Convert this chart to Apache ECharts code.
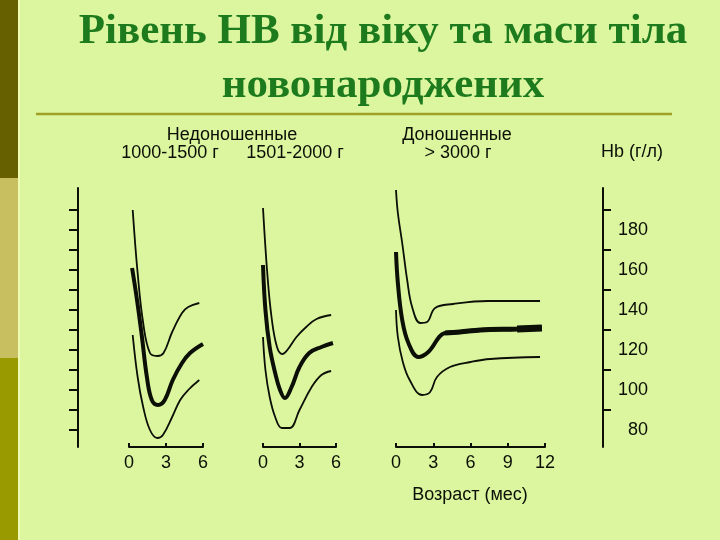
<!DOCTYPE html>
<html><head><meta charset="utf-8">
<script src="https://cdn.jsdelivr.net/npm/echarts@6/dist/echarts.min.js"></script>
<style>html,body{margin:0;padding:0;background:#dcf6a0;}#c{width:720px;height:540px;}</style>
</head><body><div id="c"></div>
<script>
// ---- data (age in months, Hb in g/l) ----
const titleText = 'Рівень НВ від віку та маси тіла\nновонароджених';
const groupLabels = ['Недоношенные', 'Доношенные'];
const weightLabels = ['1000-1500 г', '1501-2000 г', '> 3000 г'];
const yAxisName = 'Hb (г/л)';
const xAxisName = 'Возраст (мес)';
const hbLabelValues = [80, 100, 120, 140, 160, 180];
const hbRightTicks = [90, 110, 130, 150, 170, 190];
const hbLeftTicks = [80, 90, 100, 110, 120, 130, 140, 150, 160, 170, 180, 190];

const p1Upper = [[0.3,190],[0.7,158.5],[1.15,133.5],[1.7,118.5],[2.3,117],[2.8,118.5],[3.5,129],[4.3,138.5],[4.8,141.5],[5.7,143.5]];
const p1Mean  = [[0.25,161],[0.65,145],[1.05,126.5],[1.45,106.5],[1.85,95],[2.35,92.5],[2.9,95],[3.55,105],[4.3,113.5],[4.95,118.5],[6,123]];
const p1Lower = [[0.3,127.5],[0.7,106.5],[1.15,91.5],[1.7,80],[2.3,76],[2.75,77.5],[3.5,86.5],[4.15,95],[4.8,100],[5.7,105]];

const p2Upper = [[0,191],[0.35,158.5],[0.7,136.5],[1.15,121.5],[1.6,118],[2.0,120],[2.75,126.5],[3.55,131.5],[4.4,135.5],[5.6,137.5]];
const p2Mean  = [[0,162.5],[0.2,140],[0.55,121.5],[1.0,108.5],[1.4,100],[1.8,96],[2.35,101.5],[3.0,111.5],[3.8,118.5],[4.8,121.5],[5.75,123.5]];
const p2Lower = [[0,126.5],[0.2,110],[0.55,96.5],[1.0,86.5],[1.55,81],[2.2,81],[3.0,90],[4.0,101.5],[4.8,107.5],[5.6,109.5]];

const p3Upper = [[0,200],[0.15,188.5],[0.5,173.5],[0.9,155],[1.3,141.5],[1.95,133.5],[2.5,134],[3.15,141],[4.6,143],[7.4,144.5],[11.6,144.5]];
const p3Mean  = [[0,169],[0.15,153.5],[0.5,135],[1.0,123.5],[1.8,116.5],[2.6,119],[3.95,128.5],[5.15,129],[6.8,130],[9.75,130.5],[11.75,131]];
const p3Lower = [[0,140],[0.15,126.5],[0.55,114],[1.1,105],[2.1,97.5],[2.75,99],[3.3,106.5],[4.35,111.5],[6.0,114],[7.6,115.5],[11.6,116.5]];

const xTicks6 = [0, 3, 6];
const xTicks12 = [0, 3, 6, 9, 12];

// ---- chart ----
const chart = echarts.init(document.getElementById('c'), null, {renderer: 'canvas'});
const INK = '#0b0f05';
const SANS = 'Liberation Sans';
const FONT = '18px "Liberation Sans"';
const yMin = 71.5, yMax = 201;

function xAxis(gi, max, ticks) {
  return {
    type: 'value', gridIndex: gi, min: 0, max: max, interval: 3,
    axisLine: {show: true, onZero: false, lineStyle: {color: INK, width: 2}},
    axisTick: {show: true, inside: true, length: 4, lineStyle: {color: INK, width: 2}, customValues: ticks},
    axisLabel: {color: INK, fontFamily: SANS, fontSize: 18, margin: 7, customValues: ticks},
    splitLine: {show: false}
  };
}
function lineSeries(gi, data, w) {
  return {
    type: 'line', xAxisIndex: gi, yAxisIndex: gi, data: data, showSymbol: false, symbol: 'none',
    smooth: 0.4, clip: false,
    lineStyle: {color: INK, width: w}, silent: true, animation: false
  };
}

const option = {
  backgroundColor: '#dcf6a0',
  animation: false,
  title: {
    text: titleText, left: 378, top: 0, textAlign: 'center',
    textStyle: {fontFamily: 'Liberation Serif', fontWeight: 'bold', fontSize: 43, lineHeight: 54, color: '#1d7b1d'}
  },
  grid: [
    {left: 129, width: 74, top: 188, height: 259},
    {left: 263, width: 73, top: 188, height: 259},
    {left: 396, width: 149, top: 188, height: 259}
  ],
  xAxis: [xAxis(0, 6, xTicks6), xAxis(1, 6, xTicks6), xAxis(2, 12, xTicks12)],
  yAxis: [
    {type: 'value', gridIndex: 0, min: yMin, max: yMax, position: 'left', offset: 51,
     axisLine: {show: true, onZero: false, lineStyle: {color: INK, width: 2}},
     axisTick: {show: true, length: 9, lineStyle: {color: INK, width: 2}, customValues: hbLeftTicks},
     axisLabel: {show: false}, splitLine: {show: false}},
    {type: 'value', gridIndex: 1, min: yMin, max: yMax, show: false, splitLine: {show: false}},
    {type: 'value', gridIndex: 2, min: yMin, max: yMax, position: 'right', offset: 58,
     axisLine: {show: true, onZero: false, lineStyle: {color: INK, width: 2}},
     axisTick: {show: true, length: 8, lineStyle: {color: INK, width: 2}, customValues: hbRightTicks},
     axisLabel: {show: true, color: INK, fontFamily: SANS, fontSize: 18, align: 'right', margin: 45, customValues: hbLabelValues},
     splitLine: {show: false}}
  ],
  series: [
    lineSeries(0, p1Upper, 1.8), lineSeries(0, p1Mean, 4), lineSeries(0, p1Lower, 1.8),
    lineSeries(1, p2Upper, 1.8), lineSeries(1, p2Mean, 4), lineSeries(1, p2Lower, 1.8),
    lineSeries(2, p3Upper, 1.8), lineSeries(2, p3Mean, 4), lineSeries(2, p3Lower, 1.8),
    lineSeries(2, p3Mean.filter(p => p[0] >= 3.95), 5),
    lineSeries(2, p3Mean.filter(p => p[0] >= 9.75), 7)
  ],
  graphic: [
    {type: 'rect', shape: {x: 0, y: 0, width: 18, height: 178}, style: {fill: '#666000'}, silent: true},
    {type: 'rect', shape: {x: 0, y: 178, width: 18, height: 180}, style: {fill: '#c8c060'}, silent: true},
    {type: 'rect', shape: {x: 0, y: 358, width: 18, height: 182}, style: {fill: '#999900'}, silent: true},
    {type: 'rect', shape: {x: 18, y: 0, width: 2, height: 540}, style: {fill: '#eefcb4'}, silent: true},
    {type: 'line', shape: {x1: 36, y1: 114, x2: 672, y2: 114}, style: {stroke: '#a0a025', lineWidth: 2.5}, silent: true},
    {type: 'text', x: 232, y: 135, style: {text: groupLabels[0], font: FONT, fill: INK, align: 'center', verticalAlign: 'middle'}},
    {type: 'text', x: 170, y: 153, style: {text: weightLabels[0], font: FONT, fill: INK, align: 'center', verticalAlign: 'middle'}},
    {type: 'text', x: 295, y: 153, style: {text: weightLabels[1], font: FONT, fill: INK, align: 'center', verticalAlign: 'middle'}},
    {type: 'text', x: 457, y: 135, style: {text: groupLabels[1], font: FONT, fill: INK, align: 'center', verticalAlign: 'middle'}},
    {type: 'text', x: 458, y: 153, style: {text: weightLabels[2], font: FONT, fill: INK, align: 'center', verticalAlign: 'middle'}},
    {type: 'text', x: 632, y: 152, style: {text: yAxisName, font: FONT, fill: INK, align: 'center', verticalAlign: 'middle'}},
    {type: 'text', x: 470, y: 495, style: {text: xAxisName, font: FONT, fill: INK, align: 'center', verticalAlign: 'middle'}}
  ]
};
chart.setOption(option);
</script>
</body></html>
